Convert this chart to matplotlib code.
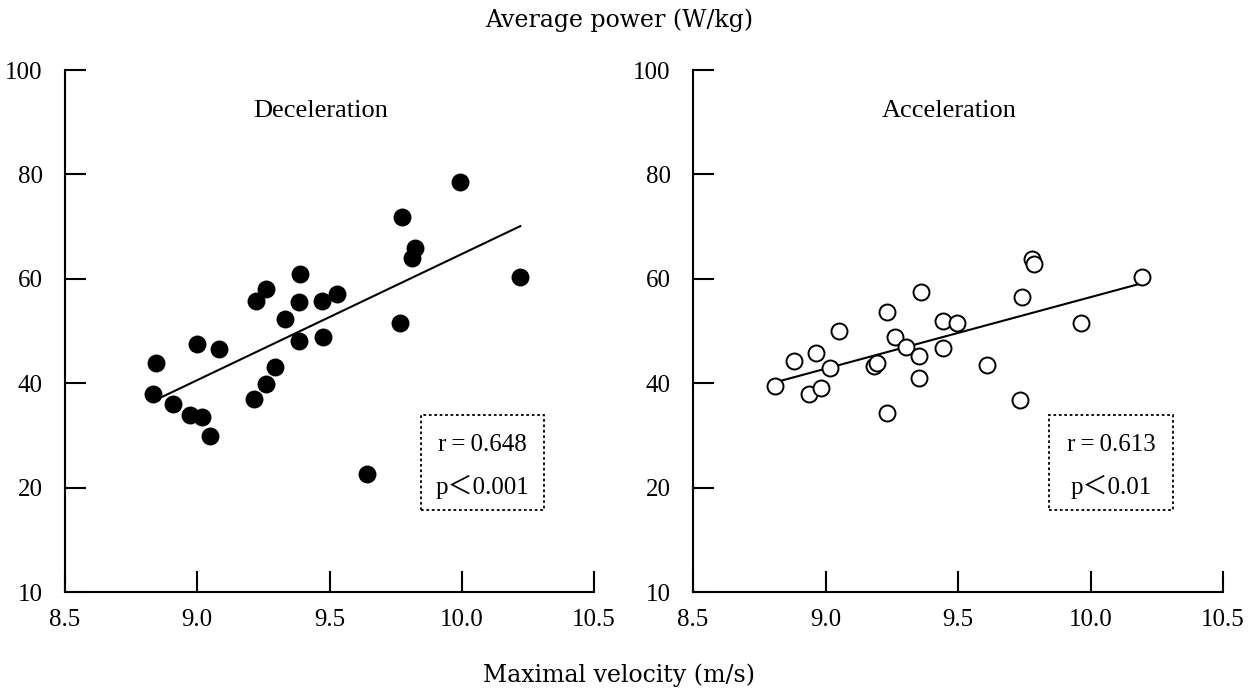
import matplotlib.pyplot as plt
import numpy as np
from matplotlib.patches import Rectangle

plt.rcParams["font.family"] = ["Liberation Serif", "Noto Sans CJK JP", "DejaVu Sans"]

# Deceleration: maximal velocity (m/s) vs average power (W/kg)
dec_x = [8.845, 8.834, 8.910, 8.971, 9.018, 9.047, 8.999, 9.083, 9.213, 9.261,
         9.293, 9.223, 9.261, 9.333, 9.390, 9.384, 9.386, 9.472, 9.529, 9.476,
         9.640, 9.766, 9.775, 9.822, 9.811, 9.992, 10.221]
dec_y = [43.8, 37.9, 36.0, 33.9, 33.6, 29.9, 47.6, 46.6, 37.0, 39.8,
         43.2, 55.8, 58.0, 52.4, 60.9, 55.6, 48.1, 55.8, 57.1, 48.9,
         22.7, 51.5, 71.9, 66.0, 63.9, 78.5, 60.3]

# Acceleration
acc_x = [8.810, 8.882, 8.938, 8.984, 8.965, 9.018, 9.052, 9.232, 9.182, 9.195,
         9.232, 9.263, 9.304, 9.354, 9.352, 9.361, 9.444, 9.497, 9.443, 9.608,
         9.743, 9.734, 9.780, 9.787, 9.963, 10.193]
acc_y = [39.5, 44.3, 37.9, 39.1, 45.8, 43.0, 50.0, 34.3, 43.3, 43.9,
         53.6, 48.8, 46.9, 45.3, 41.1, 57.5, 51.9, 51.6, 46.8, 43.5,
         56.6, 36.8, 63.8, 62.8, 51.6, 60.4]

panels = [
    ("Deceleration", dec_x, dec_y, "black", "r\u2009=\u20090.648", "p＜0.001"),
    ("Acceleration", acc_x, acc_y, "white", "r\u2009=\u20090.613", "p＜0.01"),
]

x_ticks = [8.5, 9.0, 9.5, 10.0, 10.5]
x_tick_labels = ["8.5", "9.0", "9.5", "10.0", "10.5"]
y_ticks = [0, 20, 40, 60, 80, 100]
y_tick_labels = ["10", "20", "40", "60", "80", "100"]

fig = plt.figure(figsize=(12.48, 6.93), dpi=100)
axes_rects = [[0.0521, 0.1457, 0.4239, 0.7532], [0.5553, 0.1457, 0.4247, 0.7532]]

for rect, (title, xs, ys, face, r_text, p_text) in zip(axes_rects, panels):
    ax = fig.add_axes(rect)
    xs = np.array(xs)
    ys = np.array(ys)
    ax.plot(xs, ys, "o", markersize=11.5, markerfacecolor=face,
            markeredgecolor="black", markeredgewidth=1.4, zorder=3)
    slope, intercept = np.polyfit(xs, ys, 1)
    fx = np.array([xs.min(), xs.max()])
    ax.plot(fx, slope * fx + intercept, color="black", lw=1.5, zorder=2)

    ax.set_xlim(8.5, 10.5)
    ax.set_ylim(0, 100)
    ax.set_xticks(x_ticks)
    ax.set_xticklabels(x_tick_labels)
    ax.set_yticks(y_ticks)
    ax.set_yticklabels(y_tick_labels)
    ax.tick_params(direction="in", length=15, width=1.5, labelsize=18)
    ax.tick_params(axis="x", pad=12)
    ax.tick_params(axis="y", pad=16)
    for side in ["top", "right"]:
        ax.spines[side].set_visible(False)
    for side in ["left", "bottom"]:
        ax.spines[side].set_linewidth(1.5)

    ax.text(0.483, 0.921, title, transform=ax.transAxes, ha="center", va="center",
            fontsize=19)
    ax.add_patch(Rectangle((9.845, 15.7), 0.466, 18.2, fill=False,
                           linestyle=(0, (1.5, 1.5)), lw=1.3, edgecolor="black"))
    ax.text(10.078, 28.2, r_text, ha="center", va="center", fontsize=18)
    ax.text(10.078, 20.1, p_text, ha="center", va="center", fontsize=18)

fig.text(0.496, 0.971, "Average power (W/kg)", ha="center", va="center",
         fontsize=17, family=["DejaVu Serif"])
fig.text(0.496, 0.026, "Maximal velocity (m/s)", ha="center", va="center",
         fontsize=17, family=["DejaVu Serif"])

fig.savefig("out.png", dpi=100)
